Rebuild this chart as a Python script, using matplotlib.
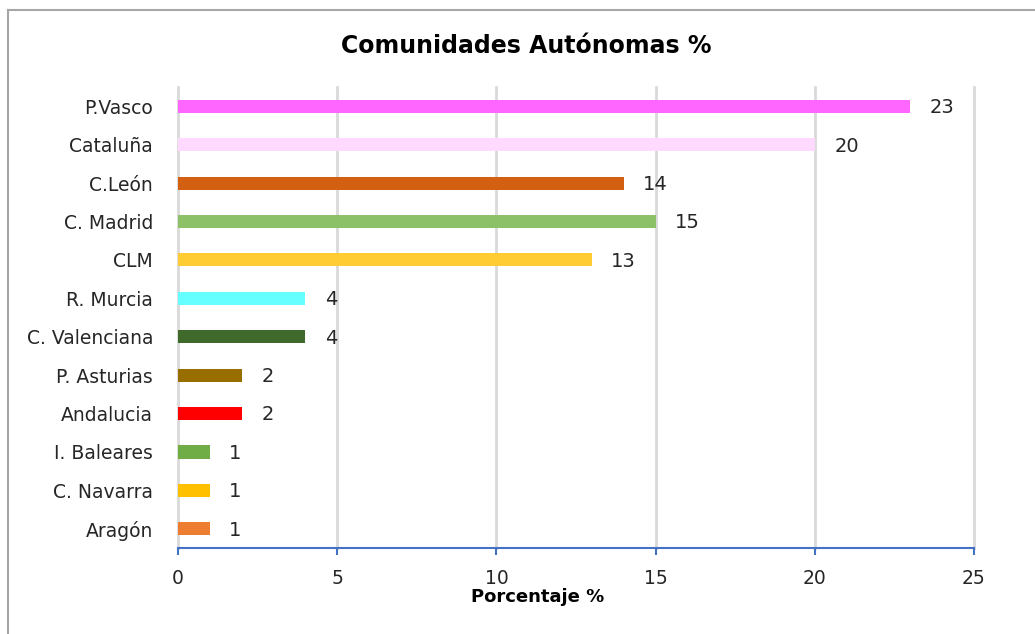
import matplotlib
matplotlib.use("Agg")
import matplotlib.pyplot as plt
from matplotlib.lines import Line2D

plt.rcParams["font.family"] = ["DejaVu Sans"]

# data, top to bottom as shown
regions = ["P.Vasco", "Cataluña", "C.León", "C. Madrid", "CLM", "R. Murcia",
           "C. Valenciana", "P. Asturias", "Andalucia", "I. Baleares",
           "C. Navarra", "Aragón"]
values = [23, 20, 14, 15, 13, 4, 4, 2, 2, 1, 1, 1]
colors = ["#FF66FF", "#FFD9FF", "#D35F13", "#8CC168", "#FFCC33", "#66FFFF",
          "#3F6A2B", "#996E00", "#FF0000", "#70AD47", "#FFC000", "#ED7D31"]
xticks = [0, 5, 10, 15, 20, 25]

fig = plt.figure(figsize=(10.35, 6.34), dpi=100)
ax = fig.add_axes([0.172, 0.1356, 0.769, 0.7272])

ypos = list(range(len(regions)))[::-1]
ax.barh(ypos, values, height=0.34, color=colors, zorder=3)
for y, v in zip(ypos, values):
    ax.annotate(str(v), (v, y), xytext=(14, -1), textcoords="offset points",
                va="center", ha="left", fontsize=14, color="#262626")

ax.set_xlim(0, 25)
ax.set_ylim(-0.5, len(regions) - 0.5)
ax.set_xticks(xticks)
ax.set_yticks(ypos)
ax.set_yticklabels(regions, fontsize=13.5, color="#262626")
ax.tick_params(axis="y", length=0, pad=18)
ax.tick_params(axis="x", length=5, width=1.5, color="#4472C4",
               labelsize=13.5, labelcolor="#262626", pad=10)
ax.grid(axis="x", color="#D9D9D9", linewidth=2, zorder=0)
for gl in ax.get_xgridlines():
    gl.set_clip_on(False)
for s in ["top", "right", "left"]:
    ax.spines[s].set_visible(False)
ax.spines["bottom"].set_color("#4472C4")
ax.spines["bottom"].set_linewidth(1.5)
ax.spines["bottom"].set_zorder(4)

fig.text(0.519, 0.058, "Porcentaje %", ha="center", va="center",
         fontsize=13, fontweight="bold")
fig.text(0.508, 0.928, "Comunidades Autónomas %", ha="center", va="center",
         fontsize=17, fontweight="bold")

# outer frame (top and left edges only visible)
fig.add_artist(Line2D([0.0077, 1.0], [0.984, 0.984], color="#A6A6A6", lw=1.5,
                      transform=fig.transFigure))
fig.add_artist(Line2D([0.0077, 0.0077], [0.0, 0.984], color="#A6A6A6", lw=1.5,
                      transform=fig.transFigure))

fig.savefig("out.png", dpi=100)
